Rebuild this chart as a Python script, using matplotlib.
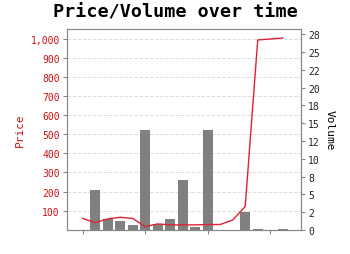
import numpy as np
import matplotlib.pyplot as plt
from matplotlib.ticker import FuncFormatter

days = np.arange(17)
price = [59, 37, 56, 65, 59, 16, 30, 25, 25, 25, 27, 27, 51, 121, 995, 1000, 1005]
volume = [0, 5.6, 1.5, 1.26, 0.66, 14.0, 0.8, 1.5, 7.0, 0.42, 14.1, 0, 0, 2.5, 0.1, 0.05, 0.1]

price_ticks = np.arange(100, 1001, 100)
volume_ticks = np.arange(0, 28, 2.5)

plt.rcParams['font.family'] = 'DejaVu Sans Mono'
red = '#cc1111'
grey = '#888888'

fig = plt.figure(figsize=(3.5, 2.55), dpi=100)
ax = fig.add_axes([0.191, 0.094, 0.669, 0.788])
ax_vol = ax.twinx()
ax_line = ax.twinx()

# volume bars
ax_vol.bar(days, volume, width=0.8, color='#808080')
ax_vol.set_ylim(0, 28.2)
ax_vol.set_yticks(volume_ticks)
ax_vol.yaxis.set_major_formatter(FuncFormatter(lambda v, p: f'{v:.0f}'))
ax_vol.set_ylabel('Volume', rotation=270, labelpad=11, fontsize=8)
ax_vol.tick_params(axis='y', labelsize=7, length=3, color=grey, labelcolor='#222222', pad=2)

# price axis, grid
ax.set_ylim(-2, 1052)
ax.set_yticks(price_ticks)
ax.yaxis.set_major_formatter(FuncFormatter(lambda v, p: f'{v:,.0f}'))
ax.grid(axis='y', color='#dddddd', linestyle='--', linewidth=0.7)
ax.set_ylabel('Price', color=red, fontsize=8, labelpad=4)
ax.tick_params(axis='y', labelsize=7, length=3, color=grey, labelcolor=red, pad=2)
ax.set_xlim(-1.26, 17.46)
ax.set_xticks([0, 5, 10, 15])
ax.set_xticklabels([])
ax.tick_params(axis='x', length=3, color=grey)

# price line on top
ax_line.plot(days, price, color='#dd2233', linewidth=1)
ax_line.set_ylim(-2, 1052)
ax_line.set_yticks([])
for s in ax_line.spines.values():
    s.set_visible(False)

for a in (ax, ax_vol):
    for s in a.spines.values():
        s.set_color(grey)

fig.suptitle('Price/Volume over time', fontweight='bold', fontsize=13.2, y=0.985)

fig.savefig('out.png', dpi=100)
